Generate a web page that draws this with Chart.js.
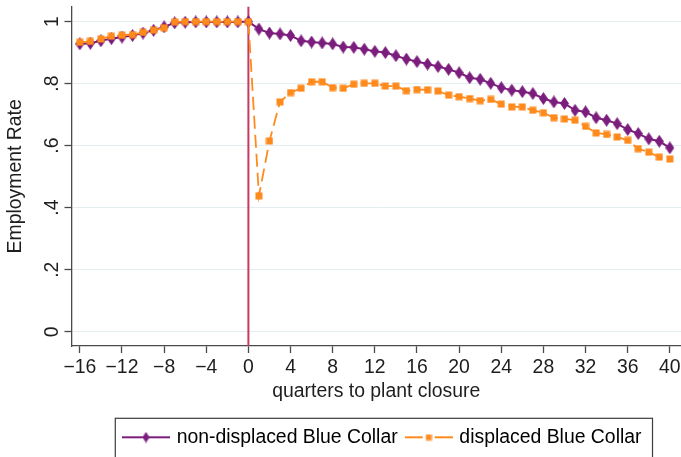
<!DOCTYPE html>
<html>
<head>
<meta charset="utf-8">
<title>Employment Rate</title>
<script src="https://cdn.jsdelivr.net/npm/chart.js@4.4.1/dist/chart.umd.min.js"></script>
<style>
    html, body { margin: 0; padding: 0; background: #fff; }
    #caja { width: 681px; height: 457px; }
</style>
</head>
<body>
<div id="caja"><canvas id="lineas" width="681" height="457"></canvas></div>
<script>
var quarters = [-16, -15, -14, -13, -12, -11, -10, -9, -8, -7, -6, -5, -4, -3, -2, -1, 0,
    1, 2, 3, 4, 5, 6, 7, 8, 9, 10, 11, 12, 13, 14, 15, 16, 17, 18, 19, 20,
    21, 22, 23, 24, 25, 26, 27, 28, 29, 30, 31, 32, 33, 34, 35, 36, 37, 38, 39, 40];

var nonDisplaced = [0.928, 0.930, 0.938, 0.945, 0.950, 0.955, 0.963, 0.972, 0.983, 0.996, 0.998, 0.999, 0.999, 0.999, 0.999, 0.999, 1.000,
    0.976, 0.963, 0.960, 0.955, 0.938, 0.934, 0.931, 0.928, 0.918, 0.917, 0.911, 0.904, 0.900, 0.890, 0.879, 0.871, 0.863, 0.855, 0.846, 0.835,
    0.819, 0.814, 0.801, 0.787, 0.779, 0.774, 0.768, 0.752, 0.741, 0.736, 0.714, 0.709, 0.690, 0.682, 0.671, 0.652, 0.639, 0.622, 0.614, 0.593];

var displaced = [0.933, 0.936, 0.944, 0.953, 0.956, 0.958, 0.965, 0.972, 0.980, 0.999, 1.000, 1.000, 1.000, 1.000, 1.000, 1.000, 1.000,
    0.438, 0.615, 0.741, 0.771, 0.785, 0.806, 0.806, 0.787, 0.785, 0.798, 0.801, 0.801, 0.792, 0.792, 0.777, 0.781, 0.780, 0.776, 0.763, 0.758,
    0.752, 0.745, 0.749, 0.734, 0.725, 0.725, 0.714, 0.706, 0.690, 0.686, 0.682, 0.662, 0.641, 0.636, 0.628, 0.617, 0.590, 0.579, 0.563, 0.557];

var seriesNames = ["non-displaced Blue Collar", "displaced Blue Collar"];
var xTicks = [-16, -12, -8, -4, 0, 4, 8, 12, 16, 20, 24, 28, 32, 36, 40];
var yTicks = [0, 0.2, 0.4, 0.6, 0.8, 1];
var yTickLabels = ["0", ".2", ".4", ".6", ".8", "1"];
var closureQuarter = 0;

var PURPLE = "#7b1d7c";
var ORANGE = "#ff8a1c";
var CLOSURE = "#c53b60";
var INK = "#1e1e1e";
var AXIS = "#4a4a4a";

function marcaDiamante(w, h) {
    var c = document.createElement("canvas");
    c.width = w; c.height = h;
    var ctx = c.getContext("2d");
    ctx.fillStyle = PURPLE;
    ctx.beginPath();
    ctx.moveTo(w / 2, 0);
    ctx.lineTo(w, h / 2);
    ctx.lineTo(w / 2, h);
    ctx.lineTo(0, h / 2);
    ctx.closePath();
    ctx.fill();
    return c;
}

function marcaCuadro(s) {
    var c = document.createElement("canvas");
    c.width = s; c.height = s;
    var ctx = c.getContext("2d");
    ctx.fillStyle = ORANGE;
    ctx.fillRect(0.5, 0.5, s - 1, s - 1);
    return c;
}

// legend sample: line with the marker in the middle
function muestraLeyenda(color, marca, hueco) {
    var c = document.createElement("canvas");
    c.width = 48; c.height = 14;
    var ctx = c.getContext("2d");
    ctx.strokeStyle = color;
    ctx.lineWidth = 2;
    ctx.beginPath();
    ctx.moveTo(0, 7); ctx.lineTo(24 - hueco, 7);
    ctx.moveTo(24 + hueco, 7); ctx.lineTo(48, 7);
    ctx.stroke();
    ctx.drawImage(marca, 24 - marca.width / 2, 7 - marca.height / 2);
    return c;
}

function puntos(valores) {
    return quarters.map(function (q, i) { return {x: q, y: valores[i]}; });
}

var lineaCierre = {
    id: "lineaCierre",
    beforeDatasetsDraw: function (chart) {
        var ctx = chart.ctx, area = chart.chartArea;
        var x = chart.scales.x.getPixelForValue(closureQuarter);
        ctx.save();
        ctx.strokeStyle = CLOSURE;
        ctx.lineWidth = 2;
        ctx.beginPath();
        ctx.moveTo(x, area.top);
        ctx.lineTo(x, area.bottom);
        ctx.stroke();
        ctx.restore();
    }
};

var marcoLeyenda = {
    id: "marcoLeyenda",
    afterLayout: function (chart) {
        // nudge the legend a bit to the right, like the original
        chart.legend.left += 7;
        chart.legend.right += 7;
    },
    afterDraw: function (chart) {
        var lg = chart.legend, hb = lg.legendHitBoxes;
        if (!hb || !hb.length) return;
        var last = hb[hb.length - 1];
        var izq = hb[0].left - 9.7;
        var der = last.left + last.width + 11;
        var ctx = chart.ctx;
        ctx.save();
        ctx.strokeStyle = "#3c3c3c";
        ctx.lineWidth = 1.2;
        ctx.strokeRect(izq, lg.top + 0.7, der - izq, 60);
        ctx.restore();
    }
};

function cargaGraficoLineas() {
    "use strict";
    var diamante = marcaDiamante(9, 13);
    var cuadro = marcaCuadro(8);
    var diamanteChico = marcaDiamante(7, 11);
    var cuadroChico = marcaCuadro(7);
    var fuente = {family: "'Liberation Sans', Arial, sans-serif", size: 19.4};

    Chart.defaults.font.family = fuente.family;
    Chart.defaults.color = INK;

    new Chart(document.getElementById("lineas").getContext("2d"), {
        type: "line",
        data: {
            datasets: [{
                label: seriesNames[0],
                data: puntos(nonDisplaced),
                borderColor: PURPLE,
                borderWidth: 2,
                pointStyle: diamante,
                pointRadius: 5,
                order: 1
            }, {
                label: seriesNames[1],
                data: puntos(displaced),
                borderColor: ORANGE,
                borderWidth: 1.8,
                borderDash: [13, 6],
                pointStyle: cuadro,
                pointRadius: 5,
                order: 0
            }]
        },
        options: {
            responsive: false,
            animation: false,
            devicePixelRatio: 1,
            layout: {autoPadding: false, padding: {top: 6.7, right: 0, left: 0, bottom: 0}},
            plugins: {
                tooltip: {enabled: false},
                legend: {
                    position: "bottom",
                    fullSize: false,
                    labels: {
                        usePointStyle: true,
                        pointStyleWidth: 42,
                        padding: 10,
                        font: fuente,
                        color: INK,
                        generateLabels: function () {
                            return [{
                                text: seriesNames[0],
                                pointStyle: muestraLeyenda(PURPLE, diamanteChico, 0),
                                fillStyle: "rgba(0,0,0,0)", strokeStyle: "rgba(0,0,0,0)",
                                lineWidth: 0, hidden: false, datasetIndex: 0
                            }, {
                                text: seriesNames[1],
                                pointStyle: muestraLeyenda(ORANGE, cuadroChico, 6),
                                fillStyle: "rgba(0,0,0,0)", strokeStyle: "rgba(0,0,0,0)",
                                lineWidth: 0, hidden: false, datasetIndex: 1
                            }];
                        }
                    }
                }
            },
            scales: {
                x: {
                    type: "linear",
                    min: -16.79,
                    max: 41.06,
                    afterBuildTicks: function (scale) {
                        scale.ticks = xTicks.map(function (v) { return {value: v}; });
                    },
                    afterFit: function (scale) {
                        scale.height = 71.6;
                        scale.paddingLeft = 0;
                        scale.paddingRight = 0;
                    },
                    ticks: {
                        font: fuente,
                        color: INK,
                        padding: 3.5,
                        maxRotation: 0,
                        callback: function (v) { return String(v).replace("-", "\u2212"); }
                    },
                    grid: {drawOnChartArea: false, drawTicks: true, tickLength: 7, tickColor: AXIS, tickWidth: 1.3},
                    border: {display: true, color: AXIS, width: 1.3},
                    title: {display: true, text: "quarters to plant closure", font: fuente, color: INK,
                        padding: {top: 0, bottom: 14}}
                },
                y: {
                    type: "linear",
                    min: -0.046,
                    max: 1.048,
                    afterBuildTicks: function (scale) {
                        scale.ticks = yTicks.map(function (v) { return {value: v}; });
                    },
                    afterFit: function (scale) {
                        scale.width = 71.5;
                        scale.paddingTop = 0;
                        scale.paddingBottom = 0;
                    },
                    ticks: {
                        font: fuente,
                        color: INK,
                        padding: 4,
                        minRotation: 90,
                        maxRotation: 90,
                        crossAlign: "center",
                        callback: function (v) {
                            var i = yTicks.indexOf(v);
                            return i >= 0 ? yTickLabels[i] : "";
                        }
                    },
                    grid: {color: "#e4eef1", lineWidth: 1, drawTicks: true, tickLength: 7, tickColor: AXIS, tickWidth: 1.3},
                    border: {display: true, color: AXIS, width: 1.3},
                    title: {display: true, text: "Employment Rate", font: fuente, color: INK,
                        padding: {top: 4.4, bottom: 0}}
                }
            }
        },
        plugins: [lineaCierre, marcoLeyenda]
    });
}

window.onload = function () {
    "use strict";
    cargaGraficoLineas();
};
</script>
</body>
</html>
